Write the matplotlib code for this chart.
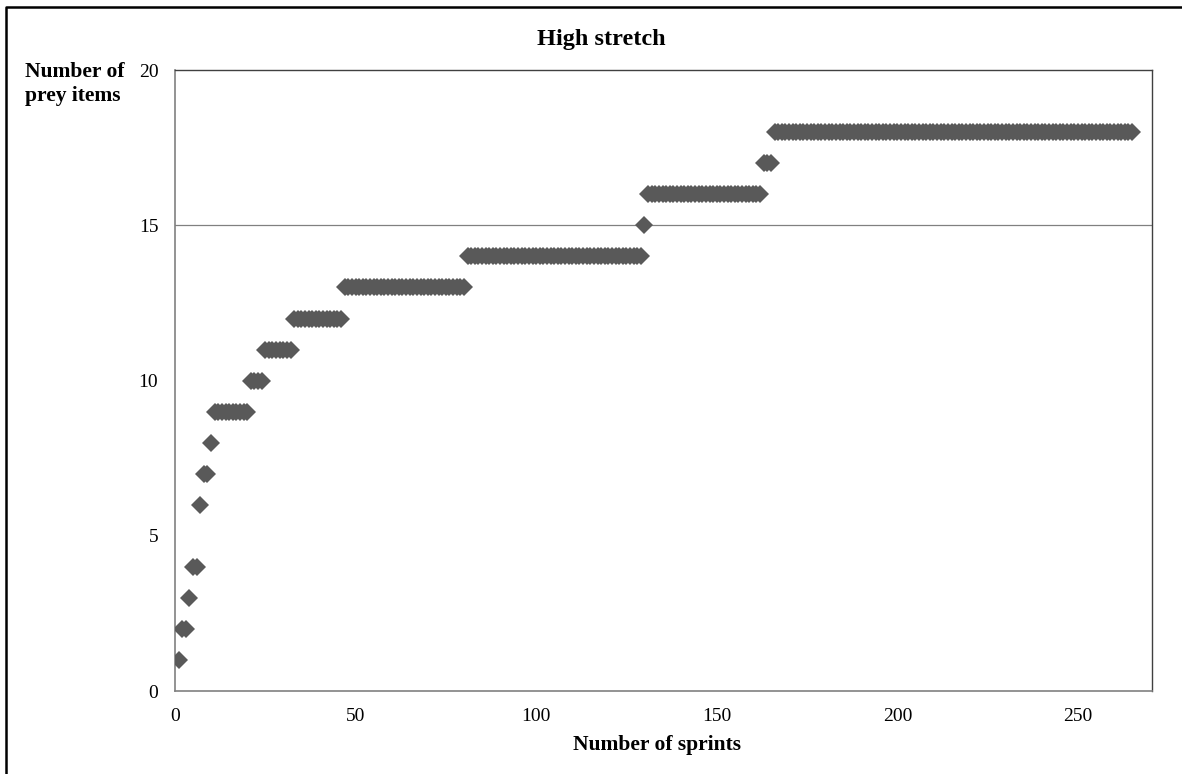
import numpy as np
import matplotlib
matplotlib.use("Agg")
import matplotlib.pyplot as plt
from matplotlib.lines import Line2D

# cumulative number of prey items, as runs of sprait numbers
prey_levels = [1, 2, 3, 4, 6, 7, 8, 9, 10, 11, 12, 13, 14, 15, 16, 17, 18]
run_start = [1, 2, 4, 5, 7, 8, 10, 11, 21, 25, 33, 47, 81, 130, 131, 163, 166]
run_end = [1, 3, 4, 6, 7, 9, 10, 20, 24, 32, 46, 80, 129, 130, 162, 165, 265]

x_ticks = [0, 50, 100, 150, 200, 250]
y_ticks = [0, 5, 10, 15, 20]

sprints = []
prey = []
for lvl, a, b in zip(prey_levels, run_start, run_end):
    for n in range(a, b + 1):
        sprints.append(n)
        prey.append(lvl)

plt.rcParams['font.family'] = ['Liberation Serif', 'DejaVu Serif']

fig = plt.figure(figsize=(11.82, 7.74), dpi=100)
ax = fig.add_axes([0.148, 0.107, 0.8266, 0.8024])

ax.axhline(15, color='#808080', lw=0.9, zorder=1)
ax.plot(sprints, prey, linestyle='none', marker='D', markersize=9.5,
        color='#595959', markeredgewidth=0, zorder=3)

ax.set_xlim(0, 270.5)
ax.set_ylim(0, 20)
ax.set_xticks(x_ticks)
ax.set_yticks(y_ticks)
ax.tick_params(length=0, labelsize=14, pad=12)
ax.tick_params(axis='y', pad=12)

for side in ['left', 'bottom']:
    ax.spines[side].set_color('#808080')
    ax.spines[side].set_linewidth(1.2)
for side in ['top', 'right']:
    ax.spines[side].set_color('#404040')
    ax.spines[side].set_linewidth(1.0)

fig.text(0.509, 0.949, 'High stretch', ha='center', va='center',
         fontsize=17.5, fontweight='bold')
fig.text(0.556, 0.037, 'Number of sprints', ha='center', va='center',
         fontsize=15.5, fontweight='bold')
fig.text(0.021, 0.891, 'Number of\nprey items', ha='left', va='center',
         fontsize=15.5, fontweight='bold', linespacing=1.25)

# outer chart border (only top and left show in the crop)
fig.lines.append(Line2D([0.005, 0.005, 1.0], [0.0, 0.991, 0.991],
                        transform=fig.transFigure, color='black', lw=1.8))

fig.savefig('out.png', dpi=100)
